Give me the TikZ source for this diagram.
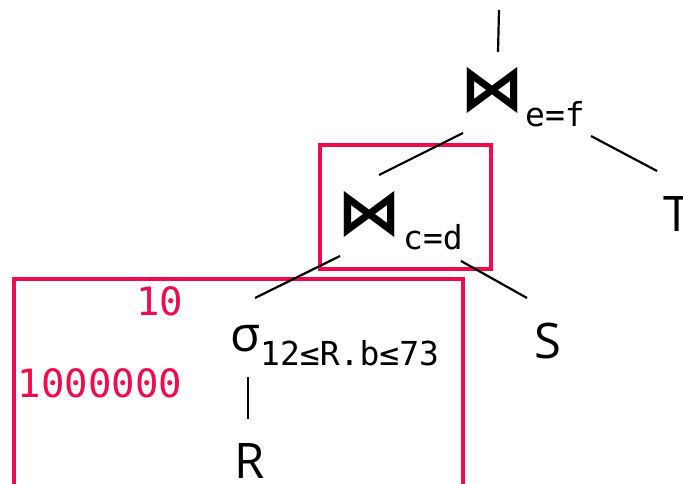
\documentclass[tikz,border=0pt]{standalone}
\usepackage{fontspec}
\setmainfont{Open Sans}
\newfontfamily\monofont{DejaVu Sans Mono}
\newfontfamily\symfont{DejaVu Sans}
\usepackage{xcolor}
\usetikzlibrary{positioning, calc}
\definecolor{hilite}{RGB}{240,10,78}

\begin{document}
\begin{tikzpicture}[x=1pt, y=-1pt,
    rel/.style={inner sep=0, font=\fontsize{49}{49}\selectfont},
    joinop/.style={inner sep=0, font=\symfont\bfseries\fontsize{64}{64}\selectfont},
    cond/.style={inner sep=0, anchor=base west, font=\monofont\fontsize{33}{33}\selectfont},
    card/.style={inner sep=0, anchor=base, text=hilite, font=\monofont\fontsize{39}{39}\selectfont},
    branch/.style={line width=2.2pt},
    hl/.style={draw=hilite, line width=3.8pt}]
  \useasboundingbox (0,0) rectangle (683,484);

  \node[joinop] (j1) at (492,90) {⋈};
  \node[cond] (cef) at (525,127) {e=f};
  \node[joinop] (j2) at (369,214) {⋈};
  \node[cond] (ccd) at (403,249) {c=d};
  \node[rel] (sel) at (246,339) {σ};
  \node[cond] (pred) at (260,365) {12≤R.b≤73};
  \node[rel] (r) at (250,461) {R};
  \node[rel] (s) at (548,341) {S};
  \node[rel] (t) at (677,214) {T};
  \coordinate (root) at (499,10);

  \node[card] (n10) at (160,315) {10};
  \node[card] (nrows) at (100,397) {1000000};

  \draw[hl] (320,145) rectangle (491,269);
  \draw[hl] (14,279) rectangle (463,500);

  \draw[branch] (root) -- ([shift={(6,-38)}]j1.center);
  \draw[branch] ([shift={(-29,43)}]j1.center) -- ([shift={(10,-39)}]j2.center);
  \draw[branch] ([shift={(99,46)}]j1.center) -- ([shift={(-20,-43)}]t.center);
  \draw[branch] ([shift={(-29,42)}]j2.center) -- ([shift={(9,-41)}]sel.center);
  \draw[branch] ([shift={(92,47)}]j2.center) -- ([shift={(-21,-43)}]s.center);
  \draw[branch] ([shift={(2,38)}]sel.center) -- ([shift={(-2,-42)}]r.center);
\end{tikzpicture}
\end{document}
